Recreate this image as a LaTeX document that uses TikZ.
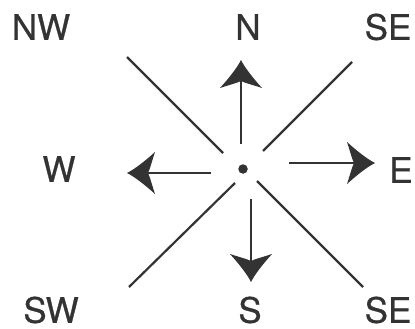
\documentclass[tikz,border=0pt]{standalone}
\usepackage{fontspec}
\setmainfont{TeX Gyre Heros}
\newfontfamily\labelfont{TeX Gyre Heros}[FakeBold=0.7]
\usetikzlibrary{arrows.meta}
% swept head with hollowed sides
\pgfdeclarearrow{
  name = Swept,
  setup code = {
    \pgfarrowssettipend{0pt}
    \pgfarrowssetbackend{-28pt}
    \pgfarrowssetlineend{-14pt}
    \pgfarrowshullpoint{0pt}{0pt}
    \pgfarrowshullpoint{-28pt}{21pt}
    \pgfarrowshullpoint{-28pt}{-21pt}
  },
  drawing code = {
    \pgfpathmoveto{\pgfpoint{0pt}{0pt}}
    \pgfpathcurveto{\pgfpoint{-8pt}{4pt}}{\pgfpoint{-18pt}{12pt}}{\pgfpoint{-28pt}{21pt}}
    \pgfpathcurveto{\pgfpoint{-25pt}{12pt}}{\pgfpoint{-23pt}{4pt}}{\pgfpoint{-21pt}{0pt}}
    \pgfpathcurveto{\pgfpoint{-23pt}{-4pt}}{\pgfpoint{-25pt}{-12pt}}{\pgfpoint{-28pt}{-21pt}}
    \pgfpathcurveto{\pgfpoint{-18pt}{-12pt}}{\pgfpoint{-8pt}{-4pt}}{\pgfpoint{0pt}{0pt}}
    \pgfpathclose
    \pgfusepathqfill
  }
}
\tikzset{
  ray/.style={draw=black!80, line width=2.2pt},
  pointer/.style={ray, -Swept},
  compass/.style={text=black!80, font=\labelfont\fontsize{35}{40}\selectfont, inner sep=0pt},
  hub/.style={circle, fill=black!80, minimum size=9.5pt, inner sep=0pt},
}
\begin{document}
\begin{tikzpicture}[x=1pt, y=-1pt]
  \useasboundingbox (0,0) rectangle (415,329);

  % labels
  \node[compass] (nw)  at (41,27)  {NW};
  \node[compass] (n)   at (248,27) {N};
  \node[compass] (ne)  at (388,27) {SE};
  \node[compass] (w)   at (59,169) {W};
  \node[compass] (e)   at (401,170) {E};
  \node[compass] (sw)  at (51,310) {SW};
  \node[compass] (s)   at (250,310) {S};
  \node[compass] (se)  at (388,310) {SE};

  % centre
  \node[hub] (hub) at (243,169) {};

  % diagonals
  \coordinate (nwin)  at (223,153);
  \coordinate (nwout) at (127,57);
  \coordinate (nein)  at (263,151);
  \coordinate (neout) at (352,62);
  \coordinate (swin)  at (235,183);
  \coordinate (swout) at (129,287);
  \coordinate (sein)  at (257,181);
  \coordinate (seout) at (363,287);
  \draw[ray] (nwin) -- (nwout);
  \draw[ray] (nein) -- (neout);
  \draw[ray] (swin) -- (swout);
  \draw[ray] (sein) -- (seout);

  % arrows
  \coordinate (nin)  at (241,144);
  \coordinate (ntip) at (241,60);
  \coordinate (sin)  at (251,199);
  \coordinate (stip) at (251,282);
  \coordinate (win)  at (211,173);
  \coordinate (wtip) at (127,173);
  \coordinate (ein)  at (289,163);
  \coordinate (etip) at (375,163);
  \draw[pointer] (nin) -- (ntip);
  \draw[pointer] (sin) -- (stip);
  \draw[pointer] (win) -- (wtip);
  \draw[pointer] (ein) -- (etip);
\end{tikzpicture}
\end{document}
